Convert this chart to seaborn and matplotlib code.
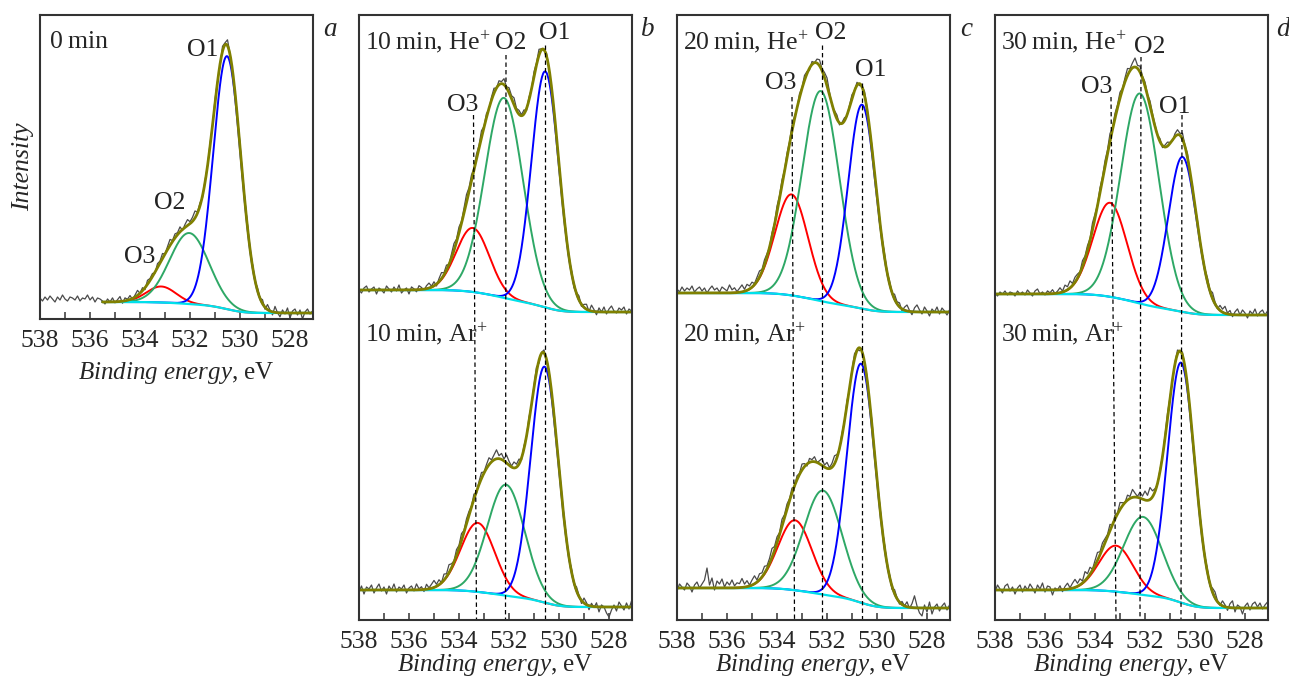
import math
import numpy as np
import seaborn as sns
import matplotlib.pyplot as plt
from matplotlib.ticker import MultipleLocator

# measured energy grid, eV
energy = np.round(np.arange(538.0, 526.95, -0.1), 2)

spectra = ["0\u2009min", "10\u2009min, He$^{+}$", "10\u2009min, Ar$^{+}$",
           "20\u2009min, He$^{+}$", "20\u2009min, Ar$^{+}$",
           "30\u2009min, He$^{+}$", "30\u2009min, Ar$^{+}$"]

# peak centres, eV
o1_pos = [530.52, 530.55, 530.58, 530.60, 530.64, 530.50, 530.56]
o2_pos = [532.03, 532.20, 532.12, 532.25, 532.16, 532.20, 532.08]
o3_pos = [533.15, 533.45, 533.25, 533.42, 533.28, 533.40, 533.16]
# peak heights above background, a.u.
o1_amp = [253, 236, 236, 204, 239, 155, 240]
o2_amp = [71, 200, 111, 210, 104, 210, 78]
o3_amp = [16, 64, 69, 101, 70, 94, 46]
# FWHM, eV
o1_fwhm = [1.30, 1.30, 1.30, 1.30, 1.33, 1.33, 1.27]
o2_fwhm = [1.85, 1.80, 1.75, 1.75, 1.80, 1.80, 1.80]
o3_fwhm = [1.40, 1.55, 1.60, 1.55, 1.60, 1.60, 1.60]
# Shirley background, high-BE and low-BE levels
bg_high = [17, 330, 30, 327, 32, 326, 30]
bg_low = [6, 308, 13, 308, 12, 305, 12]
# where the fit window starts, eV
fit_start = [535.5, 538.0, 538.0, 538.0, 538.0, 538.0, 538.0]

# raw data minus fit, a.u.
noise_0 = [4, 1, 5, 2, 6, 3, 0, 5, 2, 7, 3, 1, 5, 4, 2, 6, 1, 4, 3, 7, 2, 5, 0, 4, 3,
           1, -2, 3, 0, 4, -1, 2, 5, -2, 3, 1, 4, -1, 2, 5, 0, 3, -2, 4, 2,
           3, -1, 4, 2, 5, 0, 3, 6, 1, 4, 2, 5, -1, 3, 6, 2, 4, 7, 1, 3,
           -2, 2, 0, 3, -1, 4, 1, -2, 5, 2, 6, 1, -3, 2, 0, 4, -2, 1, 3, -1,
           2, -1, 3, 0, 4, -2, 5, 1, -3, 6, 0, -4, 3, -1, 5, -5, 2, 4, -2, 3, -6, 1, 4, -1, 2, 0]
noise_10he = [0, -3, 2, 4, -2, 1, 3, -4, 2, 0, -3, 4, 1, -2, 3, -1, 5, -3, 0, 2, -4, 3, 1, -2, 4,
              2, -1, 3, 5, 1, 4, -2, 3, 6, 2, 5, 0, 4, 7, 3, 6, 2, 5, 8, 4,
              6, 2, 5, 3, 7, 1, 4, -1, 3, 5, 0, 4, 2, 6, 1, 5, 3, 7, 2, 4,
              1, 4, -2, 3, 0, 5, 2, 6, 1, -1, 3, 0, -3, 2, -1, 1, -2, 3, 0, -2,
              2, -3, 1, 4, -2, 3, 5, -1, 6, 2, -3, 4, 0, 5, -2, 3, 6, 1, -1, 4, 2, 5, -2, 3, 1, 4]
noise_10ar = [-2, 4, -4, 3, 1, 5, -3, 2, 6, -1, 3, -4, 4, 0, 6, -2, 3, 1, 5, -3, 2, 4, -1, 6, 1,
              3, -2, 5, 1, 4, 7, 2, 5, 0, 6, 3, 8, 4, 1, 6, 3, 7, 2, 5, 4,
              1, 5, -2, 3, 6, 1, 4, 7, 2, 5, 9, 3, 6, 2, 8, 4, 1, 6, 3, 5,
              -2, 3, 0, 4, -1, 2, 5, -3, 1, 3, -1, 2, -2, 4, 0, 3, -1, 2, 1, -2,
              3, -2, 4, 1, -3, 5, 2, -4, 3, -1, 4, -5, 2, 0, -6, -10, -3, 2, -4, 5, 1, -3, 4, -2, 6, 2]
noise_20he = [4, 1, 6, 2, 5, 3, 7, 1, 4, 6, 2, 5, 0, 4, 7, 3, 5, 1, 6, 4, 2, 8, 3, 5, 1,
              4, 7, 2, 6, 3, 5, 1, 4, 6, 2, 5, 3, 0, 4, 2, 6, 3, 5, 1, 4,
              2, 6, 3, -1, 4, 1, 5, 2, -2, 3, 0, 4, 6, 2, 5, 8, 3, -1, 2, 4,
              -2, 1, 3, -1, 2, 4, 0, 3, -2, 1, 4, 2, -1, 3, 0, 2, -3, 1, 4, 0,
              3, -1, 5, 2, 4, -2, 3, 6, 1, -3, 4, 7, 2, -2, 5, 1, -4, 3, 0, 5, -2, 4, 1, -3, 2, 5]
noise_20ar = [-3, 4, 1, -2, 5, 2, -4, 3, 6, 0, 4, 8, 20, 3, 10, -2, 7, 4, 9, 1, 6, 3, 8, 2, 5,
              4, 9, 3, 6, 1, 5, 8, 2, 6, 4, 7, 3, 5, 9, 4, 6, 2, 7, 3, 5,
              2, 5, -1, 4, 1, 6, 3, -2, 4, 2, 5, 0, 3, 7, 2, 6, 1, 4, 8, 3,
              -1, 3, 0, 4, -2, 2, 5, 1, -3, 2, 0, 3, -1, 4, 1, -2, 2, 0, 3, -1,
              2, -3, 4, 1, -2, 3, 0, 5, -1, 4, 12, 2, -5, -8, 3, -4, 6, -6, 1, 4, -3, 2, 5, -2, 3, 1]
noise_30he = [1, -2, 2, 0, 3, -1, 2, 1, -2, 3, 0, 2, -1, 4, 1, -2, 3, 5, 0, 2, -1, 3, 1, 4, 0,
              2, 5, 1, 6, 3, 7, 2, 5, 4, 1, 6, 3, 5, 2, 7, 4, 1, 5, 3, 6,
              4, 8, 2, 5, 3, 6, 1, 4, 7, 2, 5, 9, 3, 6, 2, 4, 1, 5, 3, 2,
              0, 3, -2, 2, 4, 1, -1, 3, 5, 2, 6, 1, 4, -2, 2, 0, 3, -1, 2, 1,
              4, 1, 6, 2, -1, 5, 3, 7, 1, 4, -2, 3, 6, 0, 5, 2, -3, 4, 1, 6, -1, 3, 5, 0, 4, 2]
noise_30ar = [-2, 5, 1, -3, 4, 6, -1, 3, -4, 2, 5, -2, 4, 0, 6, 2, -3, 5, 1, 7, -2, 4, 3, -5, 2,
              0, 4, -2, 3, 6, 1, 5, 8, 3, 6, 2, 9, 4, 7, 1, 5, 8, 3, 6, 4,
              2, 6, -1, 4, 1, 7, 3, 0, 5, 2, 8, 4, 1, 6, 3, 9, 5, 12, 6, 3,
              -1, 2, 0, 3, 5, 1, -2, 2, 4, 0, 3, -1, 2, 1, -2, 3, 0, 2, -1, 1,
              3, -2, 4, 6, 1, -1, 5, 2, -3, 4, 7, -4, 3, 1, -6, 2, 5, -2, 4, 6, 1, 5, -1, 3, 6, 2]
noises = [noise_0, noise_10he, noise_10ar, noise_20he, noise_20ar, noise_30he, noise_30ar]

# dashed marker lines (b, c, d): x at top, x at bottom, top level
dash_x_top = {"b": [530.55, 532.12, 533.42], "c": [530.60, 532.20, 533.40], "d": [530.52, 532.16, 533.36]}
dash_x_bot = {"b": [530.55, 532.14, 533.30], "c": [530.60, 532.20, 533.30], "d": [530.56, 532.20, 533.16]}
dash_y_top = {"b": [575, 565, 505], "c": [537, 575, 523], "d": [505, 563, 523]}

COL_RAW = "#4a4a4a"
COL_ENV = "#808000"
COL_O1 = "#0000ff"
COL_O2 = "#2ea866"
COL_O3 = "#ff0000"
COL_BG = "#00e1ea"

erf = np.vectorize(math.erf)


def fit_curves(k, x):
    cs = [o1_pos[k], o2_pos[k], o3_pos[k]]
    amps = [o1_amp[k], o2_amp[k], o3_amp[k]]
    sigs = [f / 2.3548 for f in (o1_fwhm[k], o2_fwhm[k], o3_fwhm[k])]
    comps = [a * np.exp(-0.5 * ((x - c) / s) ** 2) for c, a, s in zip(cs, amps, sigs)]
    cdf = sum(a * s * 0.5 * (1 + erf((x - c) / (s * math.sqrt(2)))) for c, a, s in zip(cs, amps, sigs))
    total = sum(a * s for a, s in zip(amps, sigs))
    bg = bg_low[k] + (bg_high[k] - bg_low[k]) * cdf / total
    return bg, comps, bg + sum(comps)


def draw_spectrum(ax, k):
    _, _, env_raw = fit_curves(k, energy)
    raw = env_raw + np.array(noises[k])
    sns.lineplot(x=energy, y=raw, ax=ax, color=COL_RAW, lw=0.9, sort=False, estimator=None)
    xf = np.linspace(fit_start[k], 527.0, 500)
    bg, comps, env = fit_curves(k, xf)
    for comp, col in zip(comps[::-1], [COL_O3, COL_O2, COL_O1]):
        sns.lineplot(x=xf, y=bg + comp, ax=ax, color=col, lw=1.4, sort=False, estimator=None)
    sns.lineplot(x=xf, y=bg, ax=ax, color=COL_BG, lw=1.6, sort=False, estimator=None)
    sns.lineplot(x=xf, y=env, ax=ax, color=COL_ENV, lw=2.0, sort=False, estimator=None)


sns.set_theme(style="ticks")
plt.rcParams["font.family"] = ["Liberation Serif", "DejaVu Serif"]
plt.rcParams["mathtext.fontset"] = "custom"
plt.rcParams["mathtext.rm"] = "Liberation Serif"
plt.rcParams["mathtext.it"] = "Liberation Serif:italic"

W, H = 1289, 682
fig = plt.figure(figsize=(W / 100, H / 100), dpi=100)
FS = 18.5

# panel boxes in pixels: left, top, right, bottom
boxes = {"a": (40, 15, 313, 319), "b": (359, 15, 632, 620),
         "c": (677, 15, 950, 620), "d": (995, 15, 1268, 620)}
members = {"a": [0], "b": [1, 2], "c": [3, 4], "d": [5, 6]}
# O1, O2, O3 label positions (eV, level)
label_pos = {"a": [(531.48, 269), (532.80, 116), (534.00, 62)],
             "b": [(530.16, 587), (531.92, 577), (533.84, 515)],
             "c": [(530.24, 550), (531.84, 587), (533.84, 537)],
             "d": [(530.80, 513), (531.80, 573), (533.92, 533)]}
letter_x = {"a": 330, "b": 648, "c": 966, "d": 1283}

for key, (l, t, r, b) in boxes.items():
    ax = fig.add_axes([l / W, 1 - b / H, (r - l) / W, (b - t) / H])
    for k in members[key]:
        draw_spectrum(ax, k)
    if key != "a":
        for xt, xb, yt in zip(dash_x_top[key], dash_x_bot[key], dash_y_top[key]):
            ax.plot([xt, xb], [yt, 0], color="black", lw=0.9, ls=(0, (3.5, 2.5)))
    for name, (lx, ly) in zip(["O1", "O2", "O3"], label_pos[key]):
        ax.text(lx, ly, name, fontsize=FS, ha="center", va="center", color="#222222")
    ax.set_xlim(538, 538 - (r - l) / 25)
    ax.set_ylim(0, b - t)
    ax.xaxis.set_major_locator(MultipleLocator(2))
    ax.xaxis.set_minor_locator(MultipleLocator(1))
    ax.tick_params(axis="x", which="both", direction="in", length=5, width=1.1,
                   labelsize=FS, pad=8, color="#333333")
    ax.set_yticks([])
    for sp in ax.spines.values():
        sp.set_visible(True)
        sp.set_linewidth(1.5)
        sp.set_color("#333333")
    ax.set_xlabel(r"$\mathit{Binding\ energy}$, eV", fontsize=18,
                  labelpad=6 if key == "a" else -1)
    if key == "a":
        ax.set_ylabel("Intensity", fontsize=FS, style="italic", labelpad=4)
        ax.text(0.037, 0.911, spectra[0], transform=ax.transAxes, fontsize=FS, va="center")
    else:
        k1, k2 = members[key]
        ax.text(0.022, 0.954, spectra[k1], transform=ax.transAxes, fontsize=FS, va="center")
        ax.text(0.022, 0.472, spectra[k2], transform=ax.transAxes, fontsize=FS, va="center")
    fig.text(letter_x[key] / W, 1 - 30 / H, key, fontsize=FS + 1, style="italic",
             ha="center", va="center")

fig.savefig("out.png", dpi=100)
